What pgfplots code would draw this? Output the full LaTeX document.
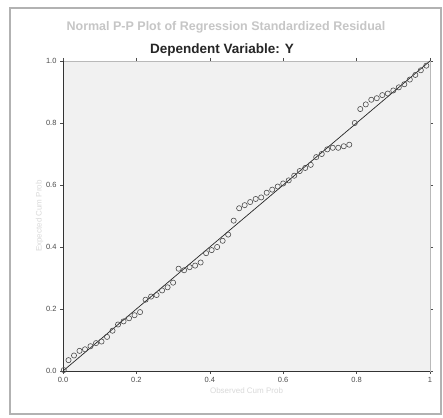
\documentclass[border=0pt]{standalone}
\usepackage{pgfplots}
\pgfplotsset{compat=1.18}
\usepackage{fontspec}
\setmainfont{Liberation Sans}
\begin{document}
\begin{tikzpicture}[x=1pt,y=1pt]
\path[use as bounding box] (0,0) rectangle (443,417);
\fill[white] (0,0) rectangle (443,417);
\draw[gray!60,line width=1.6pt] (10,3) rectangle (441,409);
\node[text=gray!45,font=\fontsize{12.5}{14}\selectfont\bfseries] at (226,390) {Normal P-P Plot of Regression Standardized Residual};
\node[font=\fontsize{13.5}{15}\selectfont\bfseries,text=black!85] at (222,367) {Dependent Variable: Y};
\begin{axis}[
  at={(63pt,46pt)}, anchor=south west,
  scale only axis, width=367pt, height=310pt,
  xmin=0, xmax=1, ymin=0, ymax=1,
  axis background/.style={fill=gray!11},
  axis line style={gray!55},
  xtick={0,0.2,0.4,0.6,0.8,1}, xticklabels={0.0,0.2,0.4,0.6,0.8,1},
  ytick={0,0.2,0.4,0.6,0.8,1}, yticklabels={0.0,0.2,0.4,0.6,0.8,1.0},
  tick align=outside, major tick length=3pt,
  tick style={black!70, line width=0.6pt},
  ticklabel style={font=\fontsize{7.5}{9}\selectfont, text=gray!60!black},
  /pgf/number format/assume math mode=true,
  xlabel={Observed Cum Prob}, ylabel={Expected Cum Prob},
  label style={font=\fontsize{8}{10}\selectfont, text=gray!30},
  xlabel style={yshift=2pt}, ylabel style={yshift=-4pt},
  clip=false,
]
\draw[black!80, line width=0.8pt] (rel axis cs:0,0) -- (rel axis cs:0,1);
\draw[black!80, line width=0.8pt] (rel axis cs:0,0) -- (rel axis cs:1,0);
\addplot[black!85, line width=0.7pt, no marks] coordinates {(0,0) (1,1)};
\addplot[only marks, mark=o, mark size=2.6pt, mark options={black!70, line width=0.6pt}] coordinates {
(0.002,0.003) (0.015,0.035) (0.03,0.05) (0.045,0.065) (0.06,0.07) (0.075,0.08)
(0.09,0.09) (0.105,0.095) (0.12,0.11) (0.135,0.13) (0.15,0.15) (0.165,0.16)
(0.18,0.17) (0.195,0.18) (0.21,0.19) (0.225,0.23) (0.24,0.24) (0.255,0.245)
(0.27,0.26) (0.285,0.27) (0.30,0.285) (0.315,0.33) (0.33,0.325) (0.345,0.335)
(0.36,0.34) (0.375,0.35) (0.39,0.38) (0.405,0.39) (0.42,0.40) (0.435,0.42)
(0.45,0.44) (0.465,0.485) (0.48,0.525) (0.495,0.535) (0.51,0.545) (0.525,0.555)
(0.54,0.56) (0.555,0.575) (0.57,0.585) (0.585,0.595) (0.60,0.605) (0.615,0.615)
(0.63,0.63) (0.645,0.645) (0.66,0.655) (0.675,0.665) (0.69,0.69) (0.705,0.70)
(0.72,0.715) (0.735,0.72) (0.75,0.72) (0.765,0.725) (0.78,0.73) (0.795,0.80)
(0.81,0.845) (0.825,0.86) (0.84,0.875) (0.855,0.88) (0.87,0.89) (0.885,0.895)
(0.90,0.905) (0.915,0.915) (0.93,0.925) (0.945,0.94) (0.96,0.955) (0.975,0.97)
(0.99,0.985)
};
\end{axis}
\end{tikzpicture}
\end{document}
